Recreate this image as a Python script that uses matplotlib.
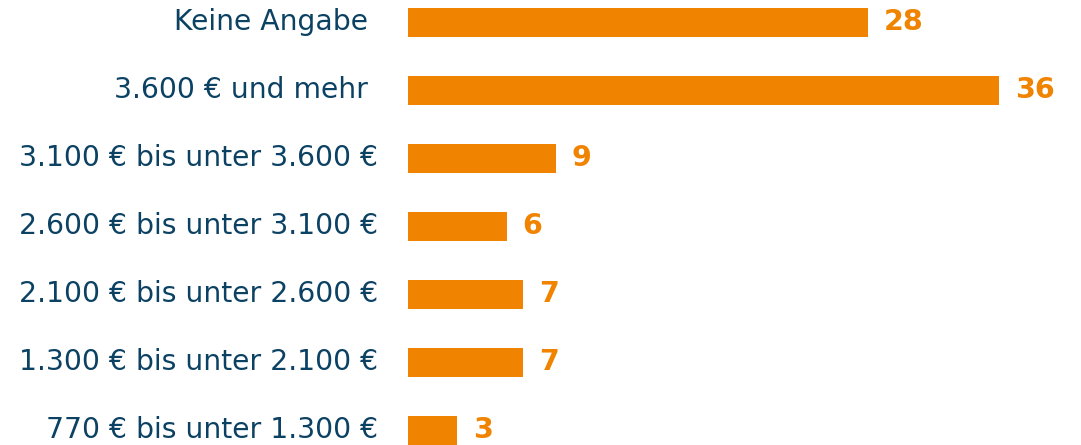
import matplotlib.pyplot as plt

# DATA
categories = [
    'Keine Angabe',
    '3.600 € und mehr',
    '3.100 € bis unter 3.600 €',
    '2.600 € bis unter 3.100 €',
    '2.100 € bis unter 2.600 €',
    '1.300 € bis unter 2.100 €',
    '770 € bis unter 1.300 €',
]
values = [28, 36, 9, 6, 7, 7, 3]
label_offsets = [40, 40, 30, 30, 30, 30, 30]  # px gap between label end and bar start

ORANGE = '#F08300'
BLUE = '#0B4163'

W, H, DPI = 1081, 445, 100
fig = plt.figure(figsize=(W / DPI, H / DPI), dpi=DPI)
x0 = 408
ax = fig.add_axes([x0 / W, 0, 1 - x0 / W, 1])

px_per_unit = 591 / 36
ax.set_xlim(0, (W - x0) / px_per_unit)
step = 68
ax.set_ylim((H - 22.5) / step, -22.5 / step)

pos = list(range(len(categories)))
ax.barh(pos, values, height=29.5 / step, color=ORANGE, edgecolor='none')

for i, (cat, v) in enumerate(zip(categories, values)):
    ax.annotate(str(v), xy=(v, i), xytext=(16, 0), textcoords='offset pixels',
                ha='left', va='center', fontsize=20.5, fontweight='bold', color=ORANGE)
    ax.annotate(cat, xy=(0, i), xytext=(-label_offsets[i], 0), textcoords='offset pixels',
                ha='right', va='center', fontsize=20.3, color=BLUE, annotation_clip=False)

ax.axis('off')
fig.savefig('out.png', dpi=DPI)
